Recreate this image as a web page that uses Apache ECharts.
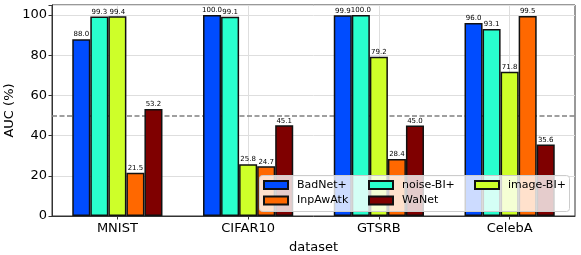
<!DOCTYPE html>
<html>
<head>
<meta charset="utf-8">
<script src="https://cdn.jsdelivr.net/npm/echarts@6/dist/echarts.min.js"></script>
<style>html,body{margin:0;padding:0;background:#fff;}#c{width:581px;height:255px;}</style>
</head>
<body>
<div id="c"></div>
<script>
const categories = ['MNIST', 'CIFAR10', 'GTSRB', 'CelebA'];
const seriesNames = ['BadNet+', 'noise-BI+', 'image-BI+', 'InpAwAtk', 'WaNet'];
const badnet = [88.0, 100.0, 99.9, 96.0];
const noiseBI = [99.3, 99.1, 100.0, 93.1];
const imageBI = [99.4, 25.8, 79.2, 71.8];
const inpAwAtk = [21.5, 24.7, 28.4, 99.5];
const wanet = [53.2, 45.1, 45.0, 35.6];
const colors = ['#004cff', '#29ffce', '#ceff29', '#ff6800', '#7f0000'];
const yTicks = [0, 20, 40, 60, 80, 100];
const threshold = 50;

const FONT = 'DejaVu Sans';
const values = [badnet, noiseBI, imageBI, inpAwAtk, wanet];

const barSeries = seriesNames.map((name, i) => ({
  name: name,
  type: 'bar',
  data: values[i],
  z: 2,
  barGap: '0%',
  barCategoryGap: '31%',
  itemStyle: { color: colors[i], borderColor: '#111', borderWidth: 1.5 },
  label: {
    show: true, position: 'top', distance: 1,
    fontFamily: FONT, fontSize: 7, color: '#000',
    formatter: p => p.value.toFixed(1)
  },
  emphasis: { disabled: true }
}));

const refSeries = {
  name: 'ref', type: 'line', data: [], z: 1, silent: true,
  markLine: {
    silent: true, symbol: 'none', z: 1,
    label: { show: false },
    lineStyle: { color: '#808080', width: 1.5, type: [5, 2.5] },
    data: [{ yAxis: threshold }]
  }
};

const legendCommon = {
  orient: 'vertical', itemWidth: 24, itemHeight: 8, itemGap: 3.5, z: 4,
  icon: 'rect', padding: 0,
  textStyle: { fontFamily: FONT, fontSize: 11, color: '#000', lineHeight: 12, padding: [0, 0, 0, 4] },
  selectedMode: false
};

const chart = echarts.init(document.getElementById('c'), null, { renderer: 'canvas' });
chart.setOption({
  animation: false,
  backgroundColor: '#fff',
  grid: { left: 52, right: 6, top: 5, bottom: 39, containLabel: false, outerBoundsMode: 'none',
    show: true, borderColor: '#333', borderWidth: 1, backgroundColor: 'transparent' },
  xAxis: {
    type: 'category', data: categories,
    name: 'dataset', nameLocation: 'middle', nameGap: 25, nameMoveOverlap: false,
    nameTextStyle: { fontFamily: FONT, fontSize: 13, color: '#000' },
    axisLine: { lineStyle: { color: '#333', width: 1 } },
    axisTick: { show: true, alignWithLabel: true, length: 3.5, lineStyle: { color: '#333' } },
    axisLabel: { fontFamily: FONT, fontSize: 13, color: '#000', margin: 6 },
    splitLine: { show: true, alignWithLabel: true, lineStyle: { color: '#dedede', width: 1 } }
  },
  yAxis: {
    type: 'value', min: 0, max: 105, interval: 20,
    name: 'AUC (%)', nameLocation: 'middle', nameGap: 36, nameMoveOverlap: false,
    nameTextStyle: { fontFamily: FONT, fontSize: 13, color: '#000' },
    axisLine: { show: true, lineStyle: { color: '#333', width: 1 } },
    axisTick: { show: true, length: 3.5, lineStyle: { color: '#333' } },
    axisLabel: { fontFamily: FONT, fontSize: 13, color: '#000', margin: 5,
      formatter: v => (yTicks.indexOf(v) >= 0 ? String(v) : '') },
    splitLine: { show: true, lineStyle: { color: '#dedede', width: 1 } }
  },
  legend: [
    Object.assign({}, legendCommon, { left: 263, top: 179, data: [seriesNames[0], seriesNames[3]] }),
    Object.assign({}, legendCommon, { left: 368, top: 179, data: [seriesNames[1], seriesNames[4]] }),
    Object.assign({}, legendCommon, { left: 474, top: 179, data: [seriesNames[2]] })
  ],
  graphic: [{
    type: 'rect', z: 3, left: 259, top: 175,
    shape: { width: 310, height: 36, r: 3 },
    style: { fill: 'rgba(255,255,255,0.8)', stroke: '#cccccc', lineWidth: 1 }
  }],
  series: barSeries.concat([refSeries])
});
</script>
</body>
</html>
